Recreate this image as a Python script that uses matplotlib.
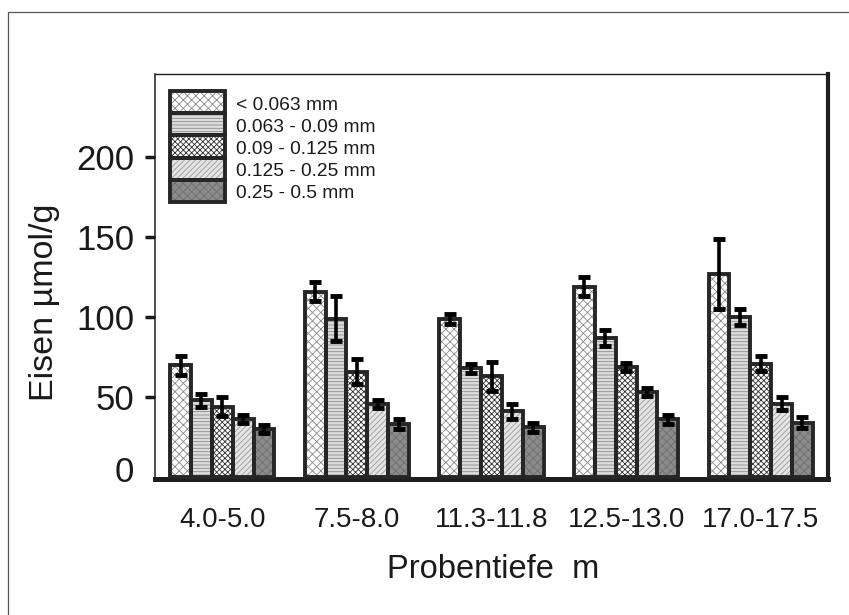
import matplotlib
matplotlib.use("Agg")
import matplotlib.pyplot as plt
from matplotlib.patches import Rectangle
from matplotlib.transforms import ScaledTranslation
import numpy as np

groups = ["4.0-5.0", "7.5-8.0", "11.3-11.8", "12.5-13.0", "17.0-17.5"]
series = ["< 0.063 mm", "0.063 - 0.09 mm", "0.09 - 0.125 mm", "0.125 - 0.25 mm", "0.25 - 0.5 mm"]
values = [
    [70, 116, 99, 119, 127],   # < 0.063
    [48, 99, 68, 87, 100],     # 0.063 - 0.09
    [44, 66, 63, 69, 71],      # 0.09 - 0.125
    [36, 46, 41, 53, 46],      # 0.125 - 0.25
    [30, 33, 31, 36, 34],      # 0.25 - 0.5
]
errors = [
    [6, 6, 3, 6, 22],
    [4, 14, 3, 5, 5],
    [6, 8, 9, 2.5, 4.5],
    [2.5, 2.5, 4.5, 2.5, 4],
    [2.5, 3, 3, 3, 3.5],
]
yticks = [0, 50, 100, 150, 200]

styles = [
    dict(face="white", hatch="xxxx", hcol="#8a8a8a"),
    dict(face="#dcdcdc", hatch="-----", hcol="#8c8c8c"),
    dict(face="white", hatch="xxxxxx", hcol="#2e2e2e"),
    dict(face="#e4e4e4", hatch="//////", hcol="#9a9a9a"),
    dict(face="#8c8c8c", hatch="xxxx", hcol="#6e6e6e"),
]
edge = "#262626"
bar_lw = 2.8

plt.rcParams["hatch.linewidth"] = 0.6
plt.rcParams["font.family"] = ["Liberation Sans", "DejaVu Sans"]

W, H = 849, 615
fig = plt.figure(figsize=(W / 100, H / 100), dpi=100)
ax = fig.add_axes([155 / W, 1 - 479 / H, (828 - 155) / W, (479 - 74) / H])

# figure border
fig.patches.append(Rectangle((8 / W, -0.1), 1.2, 1 - 12 / H + 0.1, transform=fig.transFigure,
                             fill=False, edgecolor="#555555", linewidth=0.9))

x = np.arange(len(groups))
bw = 0.1547
for j, (vals, errs, st) in enumerate(zip(values, errors, styles)):
    pos = x + (j - 2) * bw
    ax.bar(pos, vals, width=bw, color=st["face"], hatch=st["hatch"],
           edgecolor=st["hcol"], linewidth=0, zorder=2)
    ax.bar(pos, vals, width=bw, fill=False, edgecolor=edge, linewidth=bar_lw, zorder=3)
    ax.errorbar(pos, vals, yerr=errs, fmt="none", ecolor="black", elinewidth=2.6,
                capsize=4, capthick=3.5, zorder=4)

ax.set_xlim(-0.5, 4.5)
ax.set_ylim(-1.2, 252)
ax.set_xticks(x)
ax.set_xticklabels(groups, fontsize=20)
ax.set_yticks(yticks)
ax.set_yticklabels([str(t) for t in yticks], fontsize=25,
                   family=["Liberation Sans Narrow", "Liberation Sans"])
ax.tick_params(axis="x", length=0, pad=20, colors="#1a1a1a")
ax.tick_params(axis="y", direction="out", length=7, width=2.5, pad=8, colors="#1a1a1a")
t0 = ax.yaxis.get_major_ticks()[0]
t0.tick1line.set_visible(False)
t0.label1.set_transform(t0.label1.get_transform() + ScaledTranslation(0, 6 / 72, fig.dpi_scale_trans))

for side, lw in [("left", 1.1), ("top", 1.0), ("right", 3.0), ("bottom", 3.6)]:
    ax.spines[side].set_linewidth(lw)
    ax.spines[side].set_color("#1e1e1e")

ax.set_ylabel("Eisen µmol/g", fontsize=24.5, color="#1a1a1a")
ax.yaxis.set_label_coords(-0.141, 0.436)
ax.set_xlabel("Probentiefe  m", fontsize=23.5, color="#1a1a1a")
ax.xaxis.set_label_coords(0.502, -0.185)

# legend (manual, stacked boxes)
lx, lw_ = (170 - 155) / 673, 55 / 673
rh = 22.2 / 405
top = (479 - 91) / 405
for i, (lab, st) in enumerate(zip(series, styles)):
    y0 = top - (i + 1) * rh
    ax.add_patch(Rectangle((lx, y0), lw_, rh, transform=ax.transAxes, facecolor=st["face"],
                           hatch=st["hatch"], edgecolor=st["hcol"], linewidth=0, zorder=5))
    ax.add_patch(Rectangle((lx, y0), lw_, rh, transform=ax.transAxes, fill=False,
                           edgecolor=edge, linewidth=bar_lw, zorder=6))
    ax.text((236 - 155) / 673, y0 + rh / 2 - 3 / 405, lab, transform=ax.transAxes, fontsize=13.8,
            va="center", ha="left", color="#1a1a1a", zorder=6)

fig.savefig("out.png", dpi=100)
